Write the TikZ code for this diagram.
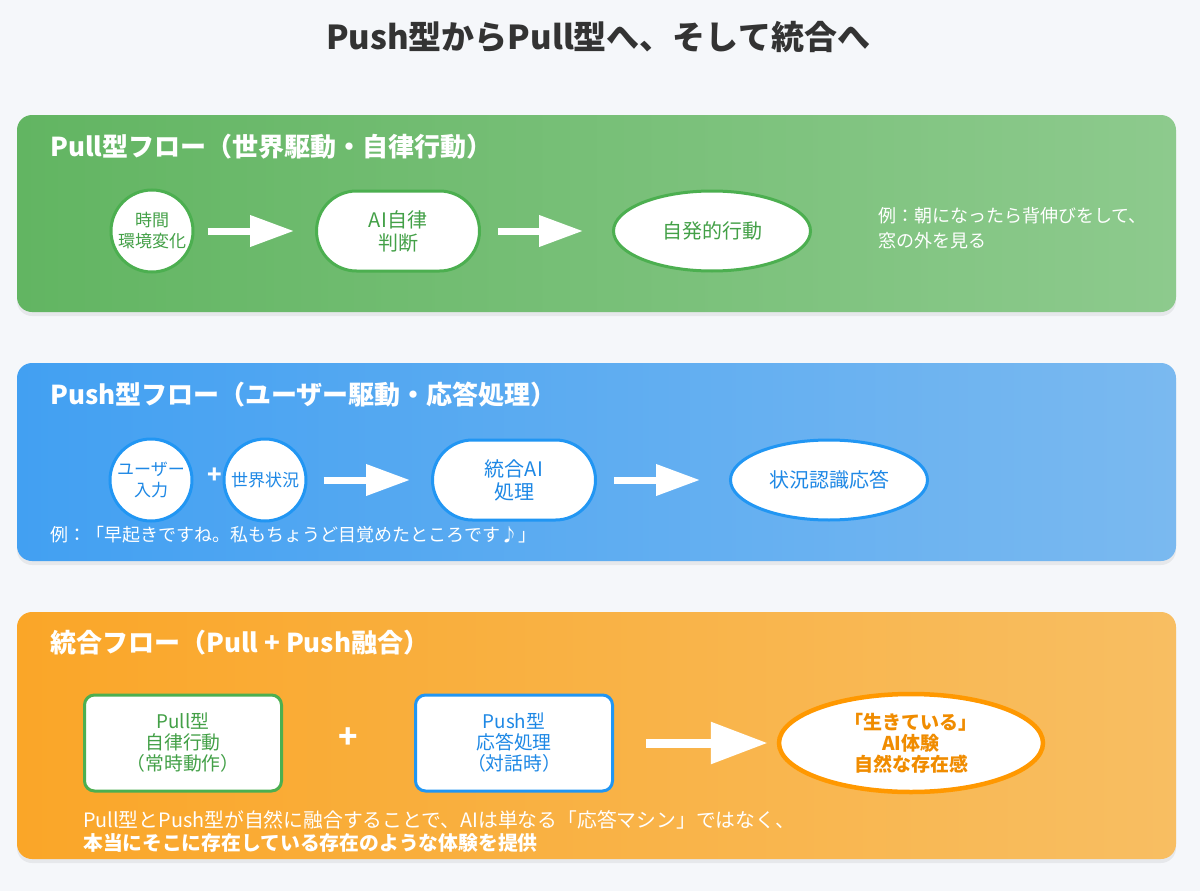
\documentclass[tikz,border=0pt]{standalone}
\usepackage{fontspec}
\setmainfont{Noto Sans CJK JP}
\usetikzlibrary{arrows.meta,shapes.geometric,shadows}
\definecolor{bgcol}{RGB}{245,247,250}
\definecolor{titlecol}{RGB}{51,51,51}
\definecolor{greenL}{RGB}{98,181,98}
\definecolor{greenR}{RGB}{141,202,141}
\definecolor{greenline}{RGB}{76,175,80}
\definecolor{greentext}{RGB}{67,160,71}
\definecolor{blueL}{RGB}{66,160,242}
\definecolor{blueR}{RGB}{122,185,240}
\definecolor{blueline}{RGB}{33,150,243}
\definecolor{bluetext}{RGB}{30,136,229}
\definecolor{orangeL}{RGB}{250,166,40}
\definecolor{orangeR}{RGB}{248,190,98}
\definecolor{orangeline}{RGB}{255,152,0}
\definecolor{orangetext}{RGB}{240,140,0}
\newcommand{\fs}[2]{\fontsize{#1}{#2}\selectfont}
\tikzstyle{panel}=[rounded corners=15pt, drop shadow={opacity=0.12, shadow xshift=0pt, shadow yshift=-4pt}]
\tikzstyle{heading}=[anchor=west, inner sep=0pt, text=white, font=\bfseries\fs{26}{30}]
\tikzstyle{note}=[anchor=west, inner sep=0pt, align=left, text=white, font=\fs{18}{25}]
\tikzstyle{circ}=[circle, fill=white, line width=3pt, minimum size=82pt, inner sep=0pt, align=center, font=\fs{17}{21}]
\tikzstyle{pill}=[rectangle, rounded corners=40pt, fill=white, line width=3pt, minimum width=163pt, minimum height=80pt, align=center, font=\fs{20}{23}]
\tikzstyle{oval}=[ellipse, fill=white, line width=3pt, minimum width=197pt, minimum height=80pt, inner sep=0pt, align=center, font=\fs{20}{23}]
\tikzstyle{card}=[rectangle, rounded corners=10pt, fill=white, line width=3pt, minimum width=197pt, minimum height=96pt, align=center, font=\fs{18.8}{21}]
\tikzstyle{plus}=[text=white, font=\bfseries\fs{24}{24}]
\tikzstyle{bigarrow}=[draw=white, line width=7pt, -{Triangle[length=44pt,width=30pt]}]

\begin{document}
\begin{tikzpicture}[x=1pt,y=-1pt]
            \fill[bgcol] (0,0) rectangle (1200,891);
            \node[text=titlecol, font=\bfseries\fs{33}{36}] (title) at (598,37) {Push型からPull型へ、そして統合へ};

            % Pull
            \shade[panel, left color=greenL, right color=greenR] (17,115) rectangle (1176,312);
            \node[heading] (pullhead) at (50,147) {Pull型フロー（世界駆動・自律行動）};
            \node[circ, draw=greenline, text=greentext] (env) at (152,231) {時間\\環境変化};
            \node[pill, draw=greenline, text=greentext] (judge) at (398,231) {AI自律\\判断};
            \node[oval, draw=greenline, text=greentext] (act) at (712,231) {自発的行動};
            \node[note] (pullnote) at (878,228) {例：朝になったら背伸びをして、\\窓の外を見る};
            \path
                (env) edge[bigarrow, shorten <=13pt, shorten >=21pt] (judge)
                (judge) edge[bigarrow, shorten <=17pt, shorten >=29pt] (act)
            ;

            % Push
            \shade[panel, left color=blueL, right color=blueR] (17,363) rectangle (1176,561);
            \node[heading] (pushhead) at (50,395) {Push型フロー（ユーザー駆動・応答処理）};
            \node[circ, draw=blueline, text=bluetext] (user) at (151,480) {ユーザー\\入力};
            \node[plus] (plus1) at (215,476) {+};
            \node[circ, draw=blueline, text=bluetext] (world) at (265,480) {世界状況};
            \node[pill, draw=blueline, text=bluetext] (core) at (514,480) {統合AI\\処理};
            \node[oval, draw=blueline, text=bluetext] (reply) at (829,480) {状況認識応答};
            \node[note] (pushnote) at (50,535) {例：「早起きですね。私もちょうど目覚めたところです♪」};
            \path
                (world) edge[bigarrow, shorten <=16pt, shorten >=21pt] (core)
                (core) edge[bigarrow, shorten <=17pt, shorten >=29pt] (reply)
            ;

            % Pull + Push
            \shade[panel, left color=orangeL, right color=orangeR] (17,612) rectangle (1176,859);
            \node[heading] (mixhead) at (50,643) {統合フロー（Pull + Push融合）};
            \node[card, draw=greenline, text=greentext] (auto) at (183,743) {Pull型\\自律行動\\（常時動作）};
            \node[plus, font=\bfseries\fs{32}{32}] (plus2) at (348,738) {+};
            \node[card, draw=blueline, text=bluetext] (talk) at (514,743) {Push型\\応答処理\\（対話時）};
            \node[oval, draw=orangeline, text=orangetext, line width=4.5pt, minimum width=264pt, minimum height=98pt, font=\bfseries\fs{19}{21}] (alive) at (911,743) {「生きている」\\AI体験\\自然な存在感};
            \node[note, font=\fs{19.8}{23}] (mixnote) at (83,831) {Pull型とPush型が自然に融合することで、AIは単なる「応答マシン」ではなく、\\\textbf{本当にそこに存在している存在のような体験を提供}};
            \path
                (talk) edge[draw=white, line width=9pt, -{Triangle[length=57pt,width=40pt]}, shorten <=32pt, shorten >=9pt] (alive)
            ;
        \end{tikzpicture}
\end{document}
